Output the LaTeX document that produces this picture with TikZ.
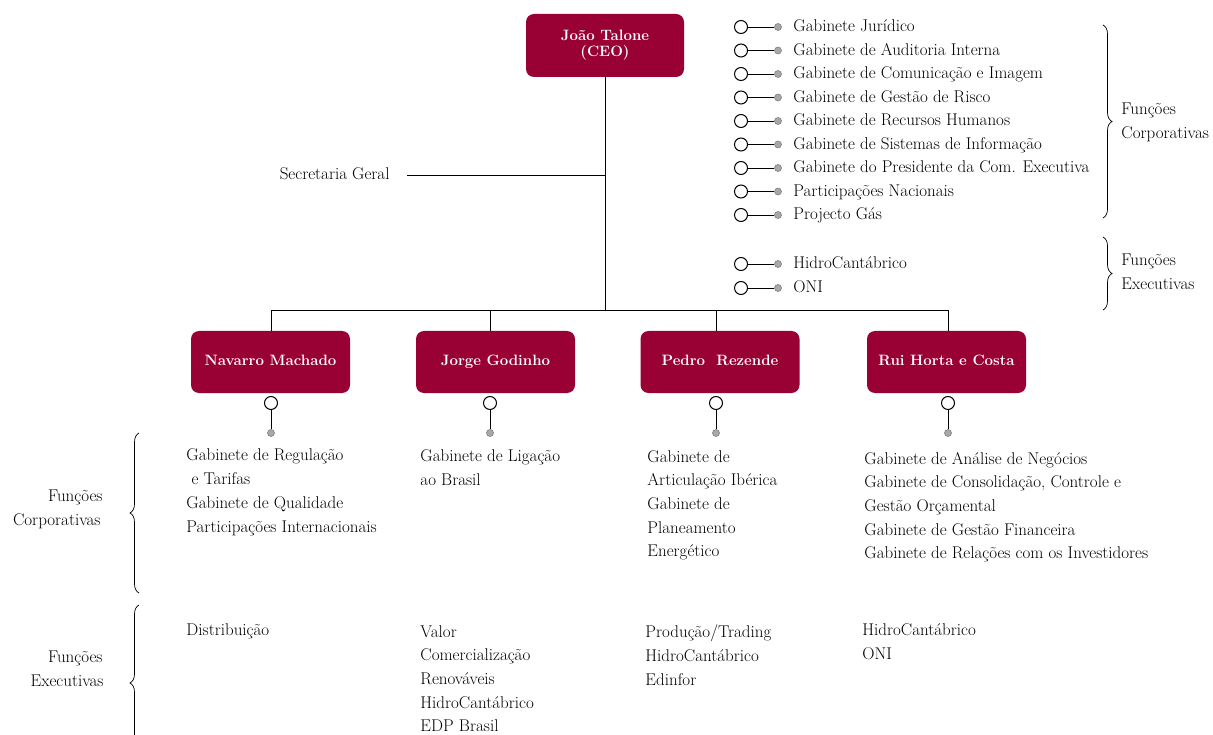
\documentclass[tikz,border=0pt]{standalone}
\usepackage{fontspec}
\usetikzlibrary{decorations.pathreplacing}
\definecolor{crim}{HTML}{990033}
\definecolor{pingray}{HTML}{A8A8A8}
\begin{document}
\begin{tikzpicture}[x=1pt,y=-1pt,
  line width=0.9pt,
  boss/.style={draw=none, fill=crim, rounded corners=8pt, minimum width=159pt, minimum height=62pt, inner sep=0pt, text=white, font=\bfseries\fontsize{15}{16}\selectfont, align=center},
  ring/.style={circle, draw=black, fill=white, minimum size=13pt, inner sep=0pt, line width=1pt},
  pin/.style={circle, draw=gray, fill=pingray, minimum size=7pt, inner sep=0pt, line width=0.6pt},
  txt/.style={anchor=base west, inner sep=0pt, font=\fontsize{17}{20}\selectfont},
  rtxt/.style={anchor=base east, inner sep=0pt, font=\fontsize{17}{20}\selectfont},
  brc/.style={decorate, decoration={brace, amplitude=9pt}, line width=0.7pt},
  ]
\useasboundingbox (0,0) rectangle (1213,735);

% CEO
\node[boss, minimum width=158pt, minimum height=63pt] (ceo) at (605,45.5) {João Talone\\(CEO)};

% directors
\node[boss] (nav) at (270.5,362) {\raisebox{3pt}{Navarro Machado}};
\node[boss] (jor) at (495.5,362) {\raisebox{3pt}{Jorge Godinho}};
\node[boss] (ped) at (720,362) {\raisebox{3pt}{Pedro~ Rezende}};
\node[boss] (rui) at (946.5,362) {\raisebox{3pt}{Rui Horta e Costa}};

% bus
\coordinate (bus) at (605,310);
\coordinate (b1) at (271,310);
\coordinate (b2) at (490,310);
\coordinate (b3) at (716,310);
\coordinate (b4) at (948,310);
\draw (ceo.south) -- (bus);
\draw (b1) -- (b4);
\draw (b1) -- (b1 |- nav.north);
\draw (b2) -- (b2 |- jor.north);
\draw (b3) -- (b3 |- ped.north);
\draw (b4) -- (b4 |- rui.north);

% Secretaria Geral
\node[rtxt] (sec) at (390,180) {Secretaria Geral};
\coordinate (secA) at (407,175);
\coordinate (secB) at (605,175);
\draw (secA) -- (secB);

% top list
\foreach \t [count=\i] in {Gabinete Jurídico, Gabinete de Auditoria Interna, Gabinete de Comunicação e Imagem, Gabinete de Gestão de Risco, Gabinete de Recursos Humanos, Gabinete de Sistemas de Informação, Gabinete do Presidente da Com. Executiva, Participações Nacionais, Projecto Gás}{
  \node[ring] (tr\i) at (741,{27+(\i-1)*23.5}) {};
  \node[pin] (tp\i) at (778,{27+(\i-1)*23.5}) {};
  \draw (tr\i) -- (tp\i);
  \node[txt] (tt\i) at (793,{32+(\i-1)*23.5}) {\t};
}
\foreach \t [count=\i] in {HidroCantábrico, ONI}{
  \node[ring] (er\i) at (741,{264+(\i-1)*24}) {};
  \node[pin] (ep\i) at (778,{264+(\i-1)*24}) {};
  \draw (er\i) -- (ep\i);
  \node[txt] (et\i) at (793,{269+(\i-1)*24}) {\t};
}

% right braces
\draw[brc] (1103,25) -- (1103,218);
\draw[brc] (1103,237) -- (1103,310);
\node[txt] (rf1) at (1121,115) {Funções};
\node[txt] (rf2) at (1121,139) {Corporativas};
\node[txt] (rf3) at (1121,266) {Funções};
\node[txt] (rf4) at (1121,290) {Executivas};

% rings below directors
\node[ring] (r1) at (271,403) {};
\node[pin] (p1) at (271,433) {};
\node[ring] (r2) at (490,403) {};
\node[pin] (p2) at (490,433) {};
\node[ring] (r3) at (716,403) {};
\node[pin] (p3) at (716,433) {};
\node[ring] (r4) at (948,403) {};
\node[pin] (p4) at (948,433) {};
\draw (r1) -- (p1);
\draw (r2) -- (p2);
\draw (r3) -- (p3);
\draw (r4) -- (p4);

% left braces
\draw[brc] (139,593) -- (139,433);
\draw[brc] (139,761) -- (139,605);
\node[rtxt] (lf1) at (103,501) {Funções};
\node[rtxt] (lf2) at (101,525) {Corporativas};
\node[rtxt] (lf3) at (103,662) {Funções};
\node[rtxt] (lf4) at (104,686) {Executivas};

% corporate functions columns
\foreach \t [count=\i] in {Gabinete de Regulação, {\ e Tarifas}, Gabinete de Qualidade, Participações Internacionais}{
  \node[txt] (ca\i) at (186,{460+(\i-1)*24.3}) {\t};
}
\foreach \t [count=\i] in {Gabinete de Ligação, ao Brasil}{
  \node[txt] (cb\i) at (420,{461+(\i-1)*24}) {\t};
}
\foreach \t [count=\i] in {Gabinete de, Articulação Ibérica, Gabinete de, Planeamento, Energético}{
  \node[txt] (cc\i) at (647,{462+(\i-1)*23.7}) {\t};
}
\foreach \t [count=\i] in {Gabinete de Análise de Negócios, {Gabinete de Consolidação, Controle e}, Gestão Orçamental, Gabinete de Gestão Financeira, Gabinete de Relações com os Investidores}{
  \node[txt] (cd\i) at (864,{464+(\i-1)*23.7}) {\t};
}

% executive functions columns
\node[txt] (xa1) at (186,635) {Distribuição};
\foreach \t [count=\i] in {Valor, Comercialização, Renováveis, HidroCantábrico, EDP Brasil}{
  \node[txt] (xb\i) at (420,{637+(\i-1)*23.7}) {\t};
}
\foreach \t [count=\i] in {Produção/Trading, HidroCantábrico, Edinfor}{
  \node[txt] (xc\i) at (645,{637+(\i-1)*24}) {\t};
}
\foreach \t [count=\i] in {HidroCantábrico, ONI}{
  \node[txt] (xd\i) at (862,{635+(\i-1)*24}) {\t};
}
\end{tikzpicture}
\end{document}
